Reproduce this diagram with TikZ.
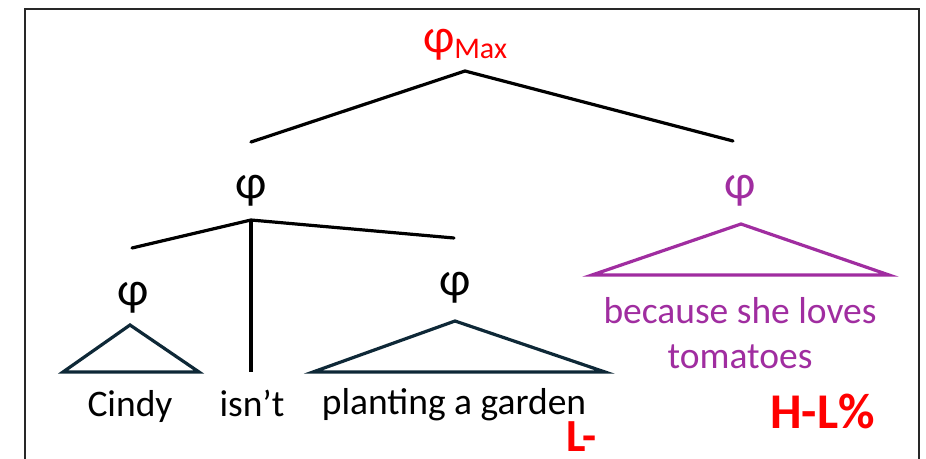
\documentclass[tikz,border=0pt]{standalone}
\usepackage{fontspec}
\setmainfont{Carlito}
\definecolor{phred}{RGB}{255,0,0}
\definecolor{phpurple}{RGB}{160,45,160}
\definecolor{tri}{RGB}{14,40,55}
\definecolor{frame}{RGB}{40,40,40}
\begin{document}
\begin{tikzpicture}[x=1pt,y=-1pt,
  edge/.style={line width=3.2pt,black,line cap=round},
  trib/.style={line width=3.2pt,tri,line join=miter},
  trip/.style={line width=3.2pt,phpurple,line join=miter},
  lab/.style={inner sep=0pt,anchor=base,font=\fontsize{37.5}{45}\selectfont},
  phi/.style={inner sep=0pt,anchor=base,font=\fontsize{48}{48}\selectfont},
  tone/.style={inner sep=0pt,anchor=base west,text=phred,font=\fontsize{46}{46}\selectfont\bfseries}]
\useasboundingbox (0,0) rectangle (926,458);
\fill[white] (0,0) rectangle (926,458);
\draw[frame,line width=2pt] (25,470) -- (25,8.5) -- (919,8.5) -- (919,470);
% root
\node[phi,text=phred] (root) at (465,52) {φ{\fontsize{30}{30}\selectfont\raisebox{-6pt}{Max}}};
\coordinate (rapex) at (465,71);
\coordinate (rl) at (251,142);
\coordinate (rr) at (733,141);
\draw[edge] (rl) -- (rapex) -- (rr);
% left phi
\node[phi] (lphi) at (251,198) {φ};
\coordinate (lapex) at (251,220);
\coordinate (ll) at (132,248);
\coordinate (lr) at (454,238);
\coordinate (lbot) at (251,372);
\draw[edge] (ll) -- (lapex) -- (lr);
\draw[edge,line cap=butt] (lapex) -- (lbot);
% Cindy
\node[phi] (cphi) at (133,305) {φ};
\coordinate (ca) at (130,325);
\coordinate (cl) at (63,372);
\coordinate (cr) at (199,372);
\draw[trib] (ca) -- (cl) -- (cr) -- cycle;
% garden
\node[phi] (gphi) at (455,295) {φ};
\coordinate (ga) at (455,321);
\coordinate (gl) at (313,372);
\coordinate (gr) at (605,372);
\draw[trib] (ga) -- (gl) -- (gr) -- cycle;
% purple
\node[phi,text=phpurple] (pphi) at (740,198) {φ};
\coordinate (pa) at (741,224);
\coordinate (pl) at (592,275);
\coordinate (pr) at (889,275);
\draw[trip] (pa) -- (pl) -- (pr) -- cycle;
% words
\node[lab] (cindy) at (130,416) {Cindy};
\node[lab] (isnt) at (252,416) {isn’t};
\node[lab] (garden) at (454,414) {planting a garden};
\node[lab,text=phpurple] (bec) at (740,323) {because she loves};
\node[lab,text=phpurple] (tom) at (740,368) {tomatoes};
\node[tone] (lminus) at (566,451) {L-};
\node[tone,font=\fontsize{50}{50}\selectfont\bfseries] (hl) at (770,428) {H-L\%};
\end{tikzpicture}
\end{document}
